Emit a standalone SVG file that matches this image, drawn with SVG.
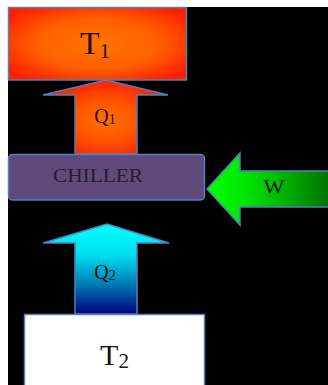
<svg xmlns="http://www.w3.org/2000/svg" width="328" height="385" viewBox="0 0 328 385">
<defs>
<radialGradient id="gRed" cx="50%" cy="50%" r="62%">
<stop offset="0" stop-color="#FF7400"/>
<stop offset="0.55" stop-color="#FF6000"/>
<stop offset="1" stop-color="#FF2000"/>
</radialGradient>
<radialGradient id="gQ1" cx="50%" cy="55%" r="55%">
<stop offset="0" stop-color="#FF7000"/>
<stop offset="0.5" stop-color="#FF5400"/>
<stop offset="1" stop-color="#FF2000"/>
</radialGradient>
<linearGradient id="gCyan" x1="0" y1="0" x2="0" y2="1">
<stop offset="0" stop-color="#00FFFF"/>
<stop offset="0.35" stop-color="#00DDEE"/>
<stop offset="0.7" stop-color="#0070B0"/>
<stop offset="1" stop-color="#000078"/>
</linearGradient>
<linearGradient id="gGreen" x1="0" y1="0" x2="1" y2="0">
<stop offset="0" stop-color="#00FF00"/>
<stop offset="0.3" stop-color="#00E800"/>
<stop offset="1" stop-color="#007400"/>
</linearGradient>
</defs>
<style>
.edge{stroke:#4F81BD;stroke-width:1.5}
.lbl{font-family:"Liberation Serif","DejaVu Serif",serif;fill:#1a1010}
</style>
<rect x="0" y="0" width="328" height="385" fill="#FFFFFF"/>
<rect x="8" y="7" width="320" height="378" fill="#000000"/>
<g id="T1">
<rect x="8.5" y="7.5" width="178" height="72.5" fill="url(#gRed)" class="edge"/>
<text class="lbl" x="95" y="54" font-size="32" text-anchor="middle">T<tspan font-size="21" dy="4">1</tspan></text>
</g>
<g id="chiller">
<rect x="8.5" y="154.5" width="196" height="45.5" rx="4" fill="#604A7B" class="edge"/>
<text class="lbl" x="98" y="182" font-size="18" text-anchor="middle" textLength="90" lengthAdjust="spacingAndGlyphs" style="fill:#251b35">CHILLER</text>
</g>
<g id="T2">
<rect x="24.5" y="314.5" width="180" height="75" fill="#FFFFFF" class="edge"/>
<text class="lbl" x="114.5" y="365" font-size="30" text-anchor="middle">T<tspan font-size="21" dy="3">2</tspan></text>
</g>
<g id="connectors">
<g id="Q1">
<polygon points="106,80 168,95 137,95 137,154 75,154 75,95 43,95" fill="url(#gQ1)" class="edge"/>
<text class="lbl" x="105" y="123" font-size="20" text-anchor="middle">Q<tspan font-size="14" dy="1">1</tspan></text>
</g>
<g id="Q2">
<polygon points="107,224 169,243 137,243 137,314 75,314 75,243 43,243" fill="url(#gCyan)" class="edge"/>
<text class="lbl" x="105" y="279" font-size="20" text-anchor="middle">Q<tspan font-size="14" dy="1">2</tspan></text>
</g>
<g id="W">
<polygon points="207,189 240,153 240,171 329,171 329,207 240,207 240,225" fill="url(#gGreen)" class="edge"/>
<text class="lbl" x="274" y="194" font-size="22" text-anchor="middle">W</text>
</g>
</g>
</svg>
